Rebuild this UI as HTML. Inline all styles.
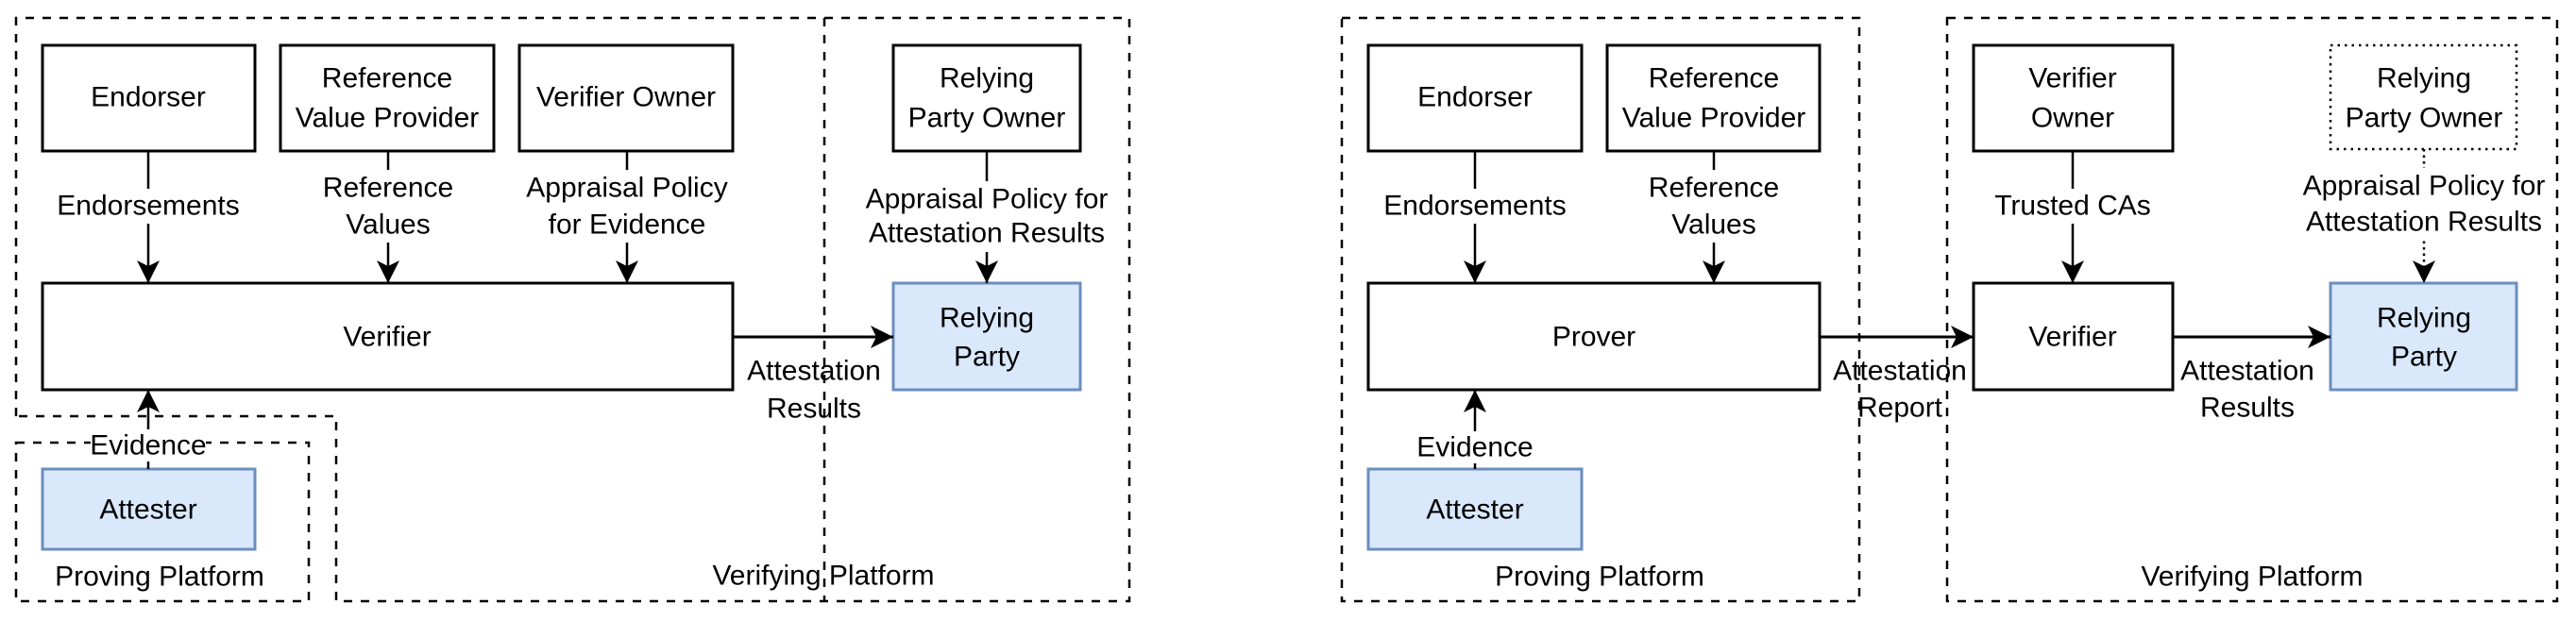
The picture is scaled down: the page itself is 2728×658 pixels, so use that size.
<!DOCTYPE html>
<html><head><meta charset="utf-8"><style>
html,body{margin:0;padding:0;background:#fff;}
svg{display:block;}
text{font-family:"Liberation Sans",sans-serif;font-size:30px;fill:#000;text-anchor:middle;dominant-baseline:central;}
</style></head><body>
<svg width="2728" height="658" viewBox="0 0 2728 658" xmlns="http://www.w3.org/2000/svg">
<defs>
<marker id="ah" viewBox="0 0 24 24" refX="24" refY="12" markerWidth="24" markerHeight="24" markerUnits="userSpaceOnUse" orient="auto">
<path d="M0,0 L24,12 L0,24 L6,12 Z" fill="#000"/>
</marker>
</defs>
<g fill="none" stroke="#000" stroke-width="2.5" stroke-dasharray="9 9">
<path d="M17,441 L17,19 L1196,19 L1196,637 L356,637 L356,441 Z"/>
<line x1="873" y1="19" x2="873" y2="637"/>
<rect x="17" y="469" width="310" height="168"/>
<rect x="1421" y="19" width="548" height="618"/>
<rect x="2062" y="19" width="646" height="618"/>
</g>
<g stroke="#000" stroke-width="3" fill="#fff">
<rect x="45" y="48" width="225" height="112"/>
<rect x="297" y="48" width="226" height="112"/>
<rect x="550" y="48" width="226" height="112"/>
<rect x="946" y="48" width="198" height="112"/>
<rect x="45" y="300" width="731" height="113"/>
<rect x="1449" y="48" width="226" height="112"/>
<rect x="1702" y="48" width="225" height="112"/>
<rect x="1449" y="300" width="478" height="113"/>
<rect x="2090" y="48" width="211" height="112"/>
<rect x="2090" y="300" width="211" height="113"/>
</g>
<rect x="2468" y="48" width="197" height="110" fill="#fff" stroke="#000" stroke-width="2.5" stroke-dasharray="2.5 5"/>
<g stroke="#6c8ebf" stroke-width="3" fill="#dae8fc">
<rect x="946" y="300" width="198" height="113"/>
<rect x="45" y="497" width="225" height="85"/>
<rect x="2468" y="300" width="197" height="113"/>
<rect x="1449" y="497" width="226" height="85"/>
</g>
<g stroke="#000" stroke-width="2.5" fill="none">
<line x1="157" y1="160" x2="157" y2="300" marker-end="url(#ah)"/>
<line x1="411" y1="160" x2="411" y2="300" marker-end="url(#ah)"/>
<line x1="664" y1="160" x2="664" y2="300" marker-end="url(#ah)"/>
<line x1="1045" y1="160" x2="1045" y2="300" marker-end="url(#ah)"/>
<line x1="776" y1="357" x2="946" y2="357" stroke-width="3" marker-end="url(#ah)"/>
<line x1="157" y1="497" x2="157" y2="413" marker-end="url(#ah)"/>
<line x1="1562" y1="160" x2="1562" y2="300" marker-end="url(#ah)"/>
<line x1="1815" y1="160" x2="1815" y2="300" marker-end="url(#ah)"/>
<line x1="2195" y1="160" x2="2195" y2="300" marker-end="url(#ah)"/>
<line x1="2567" y1="158" x2="2567" y2="300" stroke-dasharray="2.5 4" marker-end="url(#ah)"/>
<line x1="1927" y1="357" x2="2090" y2="357" stroke-width="3" marker-end="url(#ah)"/>
<line x1="2301" y1="357" x2="2468" y2="357" stroke-width="3" marker-end="url(#ah)"/>
<line x1="1562" y1="497" x2="1562" y2="413" marker-end="url(#ah)"/>
</g>
<g fill="#fff">
<rect x="60" y="200" width="196" height="37"/>
<rect x="330" y="180" width="162" height="77"/>
<rect x="556" y="180" width="218" height="77"/>
<rect x="910" y="192" width="270" height="75"/>
<rect x="96" y="455" width="122" height="34"/>
<rect x="1464" y="200" width="196" height="37"/>
<rect x="1734" y="180" width="162" height="77"/>
<rect x="2120" y="200" width="150" height="37"/>
<rect x="2432" y="178" width="272" height="75"/>
<rect x="1500" y="457" width="122" height="34"/>
</g>
<text x="157" y="103">Endorser</text>
<text x="410" y="83">Reference</text><text x="410" y="125">Value Provider</text>
<text x="663" y="103">Verifier Owner</text>
<text x="1045" y="83">Relying</text><text x="1045" y="125">Party Owner</text>
<text x="410" y="357">Verifier</text>
<text x="1045" y="337">Relying</text><text x="1045" y="378">Party</text>
<text x="157" y="540">Attester</text>
<text x="157" y="218">Endorsements</text>
<text x="411" y="199">Reference</text><text x="411" y="238">Values</text>
<text x="664" y="199">Appraisal Policy</text><text x="664" y="238">for Evidence</text>
<text x="1045" y="211">Appraisal Policy for</text><text x="1045" y="247">Attestation Results</text>
<text x="862" y="393">Attestation</text><text x="862" y="433">Results</text>
<text x="157" y="472">Evidence</text>
<text x="169" y="611">Proving Platform</text>
<text x="872" y="610">Verifying Platform</text>

<text x="1562" y="103">Endorser</text>
<text x="1815" y="83">Reference</text><text x="1815" y="125">Value Provider</text>
<text x="2195" y="83">Verifier</text><text x="2195" y="125">Owner</text>
<text x="2567" y="83">Relying</text><text x="2567" y="125">Party Owner</text>
<text x="1688" y="357">Prover</text>
<text x="2195" y="357">Verifier</text>
<text x="2567" y="337">Relying</text><text x="2567" y="378">Party</text>
<text x="1562" y="540">Attester</text>
<text x="1562" y="218">Endorsements</text>
<text x="1815" y="199">Reference</text><text x="1815" y="238">Values</text>
<text x="2195" y="218">Trusted CAs</text>
<text x="2567" y="197">Appraisal Policy for</text><text x="2567" y="235">Attestation Results</text>
<text x="2012" y="393">Attestation</text><text x="2012" y="432">Report</text>
<text x="2380" y="393">Attestation</text><text x="2380" y="432">Results</text>
<text x="1562" y="474">Evidence</text>
<text x="1694" y="611">Proving Platform</text>
<text x="2385" y="611">Verifying Platform</text>
</svg>
</body></html>
